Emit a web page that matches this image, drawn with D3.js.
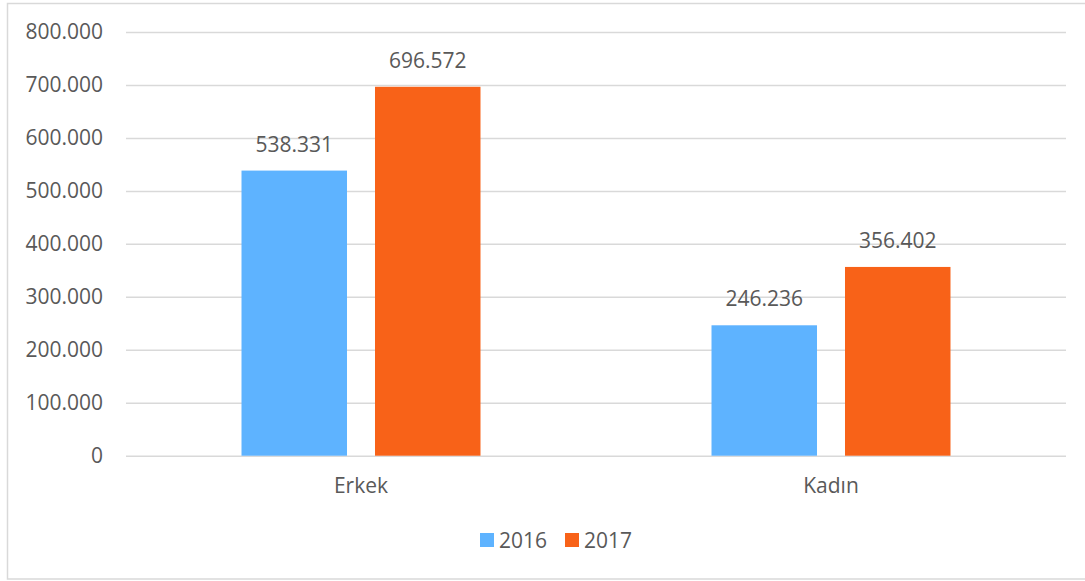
<!DOCTYPE html>
<html>
<head>
<meta charset="utf-8">
<script src="https://cdn.jsdelivr.net/npm/d3@7"></script>
<style>
  html, body { margin: 0; padding: 0; background: #fff; }
  svg { display: block; }
  text { font-family: "Open Sans", sans-serif; fill: #595959; }
</style>
</head>
<body>
<svg id="chart" width="1085" height="581"></svg>
<script>
// Gender breakdown, 2016 vs 2017
const categories = ["Erkek", "Kadın"];
const seriesNames = ["2016", "2017"];
const values2016 = [538331, 246236];
const values2017 = [696572, 356402];
const yTicks = [0, 100000, 200000, 300000, 400000, 500000, 600000, 700000, 800000];
const colors = ["#5EB3FF", "#F86218"];

const seriesValues = [values2016, values2017];
const fontSize = "21px";

const locale = d3.formatLocale({ decimal: ",", thousands: ".", grouping: [3], currency: ["", ""] });
const fmt = locale.format(",d");

const svg = d3.select("#chart");

// outer frame
svg.append("rect")
  .attr("x", 7.5).attr("y", 3.5)
  .attr("width", 1090).attr("height", 575.5)
  .attr("fill", "#fff")
  .attr("stroke", "#d9d9d9").attr("stroke-width", 1.5);

const plot = { left: 126, right: 1066, top: 32, bottom: 455.7 };

const y = d3.scaleLinear().domain([0, 800000]).range([plot.bottom, plot.top]);

const x0 = d3.scaleBand()
  .domain(categories)
  .range([plot.left, plot.right])
  .paddingInner(0.4915)
  .paddingOuter(0.4915 / 2);

const x1 = d3.scaleBand()
  .domain(seriesNames)
  .range([0, x0.bandwidth()])
  .paddingInner(0.2097)
  .paddingOuter(0);

// gridlines
const grid = d3.axisLeft(y).tickValues(yTicks).tickSize(-(plot.right - plot.left)).tickFormat("");
svg.append("g")
  .attr("transform", `translate(${plot.left},0)`)
  .call(grid)
  .call(g => g.select(".domain").remove())
  .call(g => g.selectAll("line").attr("stroke", "#d9d9d9").attr("stroke-width", 1.5));

// y tick labels
const yAxis = d3.axisLeft(y).tickValues(yTicks).tickSize(0).tickPadding(23).tickFormat(fmt);
svg.append("g")
  .attr("transform", `translate(${plot.left},0)`)
  .call(yAxis)
  .call(g => g.select(".domain").remove())
  .call(g => g.selectAll("text")
    .style("font-family", '"Open Sans", sans-serif')
    .style("font-size", fontSize)
    .attr("fill", "#595959"));

// bars
const groups = svg.append("g").selectAll("g")
  .data(categories)
  .join("g")
  .attr("transform", d => `translate(${x0(d)},0)`);

groups.selectAll("rect")
  .data((d, i) => seriesNames.map((s, j) => ({ series: s, value: seriesValues[j][i], color: colors[j] })))
  .join("rect")
  .attr("x", d => x1(d.series))
  .attr("y", d => y(d.value))
  .attr("width", x1.bandwidth())
  .attr("height", d => y(0) - y(d.value))
  .attr("fill", d => d.color);

// value labels
groups.selectAll("text")
  .data((d, i) => seriesNames.map((s, j) => ({ series: s, value: seriesValues[j][i] })))
  .join("text")
  .attr("x", d => x1(d.series) + x1.bandwidth() / 2)
  .attr("y", d => y(d.value) - 19)
  .attr("text-anchor", "middle")
  .style("font-size", fontSize)
  .text(d => fmt(d.value));

// category axis labels
const xAxis = d3.axisBottom(x0).tickSize(0).tickPadding(22);
svg.append("g")
  .attr("transform", `translate(0,${plot.bottom})`)
  .call(xAxis)
  .call(g => g.select(".domain").remove())
  .call(g => g.selectAll("text")
    .style("font-family", '"Open Sans", sans-serif')
    .style("font-size", fontSize)
    .attr("fill", "#595959"));

// legend
const legendItems = [
  { name: seriesNames[0], color: colors[0], x: 480 },
  { name: seriesNames[1], color: colors[1], x: 565 }
];
const legend = svg.append("g").selectAll("g")
  .data(legendItems)
  .join("g")
  .attr("transform", d => `translate(${d.x},533)`);
legend.append("rect")
  .attr("width", 14).attr("height", 14)
  .attr("fill", d => d.color);
legend.append("text")
  .attr("x", 19).attr("y", 14.5)
  .style("font-size", fontSize)
  .text(d => d.name);
</script>
</body>
</html>
